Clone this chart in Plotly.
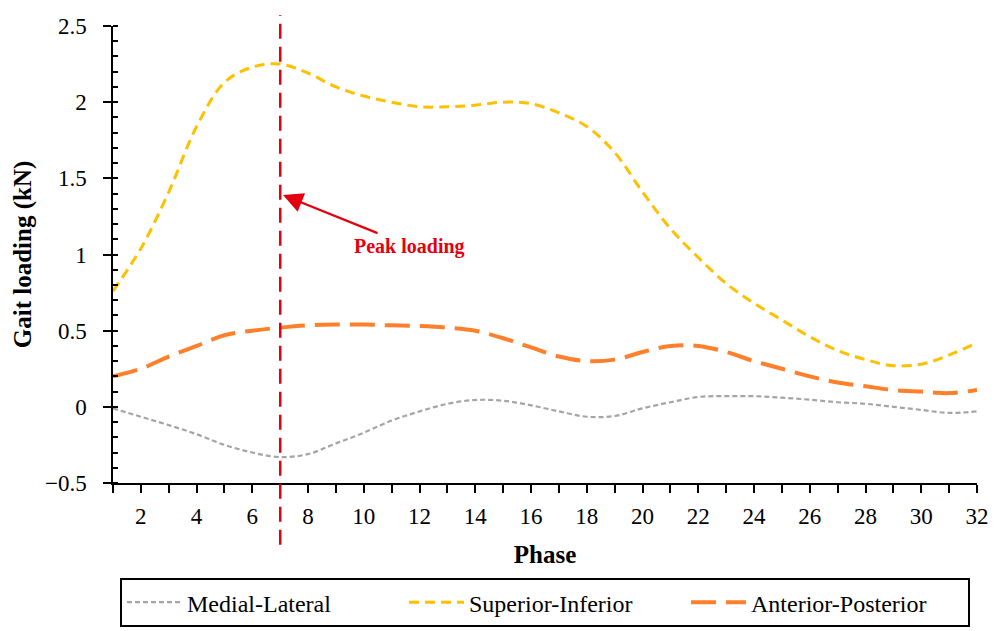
import plotly.graph_objects as go

phase = list(range(1, 33))
medial_lateral = [-0.01, -0.065, -0.12, -0.18, -0.25, -0.30, -0.33, -0.31, -0.24, -0.17, -0.09,
                  -0.03, 0.02, 0.045, 0.04, 0.01, -0.03, -0.065, -0.06, -0.01, 0.03, 0.065,
                  0.07, 0.07, 0.06, 0.047, 0.03, 0.02, 0.0, -0.02, -0.04, -0.03]
superior_inferior = [0.76, 1.04, 1.41, 1.84, 2.13, 2.23, 2.25, 2.19, 2.10, 2.04, 2.0,
                     1.97, 1.97, 1.98, 2.0, 1.99, 1.93, 1.84, 1.67, 1.41, 1.17, 0.98,
                     0.81, 0.68, 0.57, 0.46, 0.37, 0.31, 0.27, 0.28, 0.34, 0.42]
anterior_posterior = [0.20, 0.25, 0.33, 0.40, 0.47, 0.50, 0.52, 0.535, 0.54, 0.54, 0.535,
                      0.53, 0.52, 0.50, 0.45, 0.39, 0.33, 0.30, 0.31, 0.36, 0.40, 0.40,
                      0.36, 0.30, 0.25, 0.20, 0.16, 0.135, 0.11, 0.10, 0.09, 0.11]
series_names = ["Medial-Lateral", "Superior-Inferior", "Anterior-Posterior"]
x_tick_labels = [str(p) if p % 2 == 0 else "" for p in phase]
peak_phase = 7
annotation_text = "Peak loading"

FONT = "Liberation Serif, Times New Roman, serif"
RED = "#E3000F"

fig = go.Figure()
fig.add_trace(go.Scatter(x=phase, y=medial_lateral, name=series_names[0], mode="lines",
                         line=dict(color="#A5A5A5", width=2.2, dash="5px,3px", shape="spline", smoothing=1.0)))
fig.add_trace(go.Scatter(x=phase, y=superior_inferior, name=series_names[1], mode="lines",
                         line=dict(color="#FFC000", width=3, dash="10px,6px", shape="spline", smoothing=1.0)))
fig.add_trace(go.Scatter(x=phase, y=anterior_posterior, name=series_names[2], mode="lines",
                         line=dict(color="#FF7F2A", width=4, dash="25px,10px", shape="spline", smoothing=1.0)))

fig.add_shape(type="line", xref="x", yref="paper", x0=peak_phase, x1=peak_phase,
              y0=-0.135, y1=1.024, line=dict(color=RED, width=2.5, dash="15px,8px"))

fig.add_annotation(x=peak_phase + 0.1, y=1.39, xref="x", yref="y",
                   ax=11.65, ay=1.055, axref="x", ayref="y",
                   text="<b>" + annotation_text + "</b>", showarrow=True,
                   arrowhead=2, arrowsize=1.8, arrowwidth=2.2, arrowcolor=RED,
                   font=dict(family=FONT, size=20, color=RED))

fig.update_layout(
    width=998, height=631,
    margin=dict(l=105, r=29, t=18, b=152),
    paper_bgcolor="white", plot_bgcolor="white",
    font=dict(family=FONT, size=23, color="black"),
    showlegend=True,
    legend=dict(orientation="h", x=0.5, xanchor="center", y=-0.208, yanchor="top",
                bordercolor="black", borderwidth=2, entrywidth=212, itemwidth=55,
                font=dict(family=FONT, size=24, color="black")),
    xaxis=dict(range=[1, 32], tickmode="array", tickvals=phase, ticktext=x_tick_labels,
               ticks="outside", ticklen=8, tickwidth=1.5, tickcolor="black", ticklabelstandoff=4,
               showline=True, linecolor="black", linewidth=1.5, showgrid=False, zeroline=False,
               title=dict(text="<b>Phase</b>", standoff=17, font=dict(family=FONT, size=25)),
               automargin=False),
    yaxis=dict(range=[-0.5, 2.5], tickmode="linear", tick0=-0.5, dtick=0.5,
               ticks="outside", ticklen=8, tickwidth=1.5, tickcolor="black", ticklabelstandoff=12,
               minor=dict(dtick=0.1, ticks="inside", ticklen=5, tickwidth=1.5, tickcolor="black", showgrid=False),
               showline=True, linecolor="black", linewidth=1.5, showgrid=False, zeroline=False,
               title=dict(text="<b>Gait loading (kN)</b>", standoff=6, font=dict(family=FONT, size=25)),
               automargin=False),
)

fig.write_html("out.html")
